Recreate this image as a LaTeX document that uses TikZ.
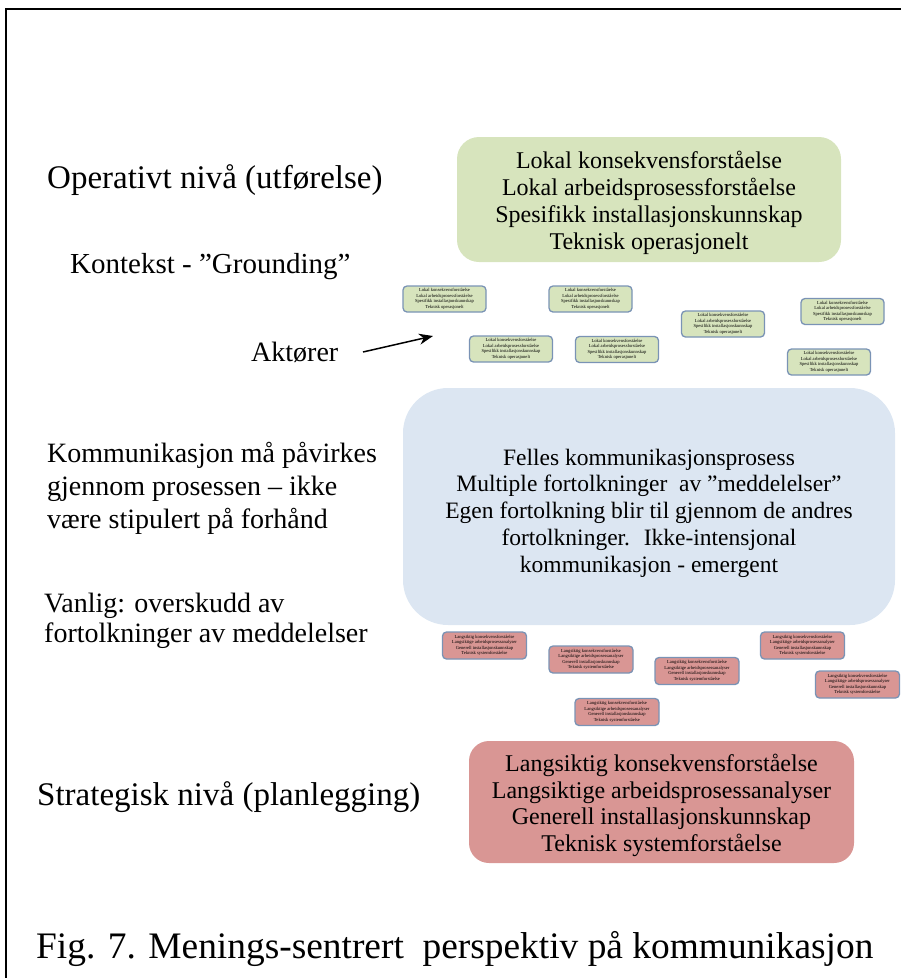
\documentclass[tikz,border=0pt]{standalone}
\usepackage{fontspec}
\setmainfont{Liberation Serif}
\usetikzlibrary{arrows.meta}
\definecolor{grn}{HTML}{D7E4BD}
\definecolor{blu}{HTML}{DCE6F2}
\definecolor{rd}{HTML}{D99694}
\definecolor{edg}{HTML}{7A93B5}
\newcommand{\grntext}{Lokal konsekvensforståelse\\Lokal arbeidsprosessforståelse\\Spesifikk installasjonskunnskap\\Teknisk operasjonelt}
\newcommand{\rdtext}{Langsiktig konsekvensforståelse\\Langsiktige arbeidsprosessanalyser\\Generell installasjonskunnskap\\Teknisk systemforståelse}
\begin{document}
\begin{tikzpicture}[x=1pt,y=-1pt,
  bigbox/.style={inner sep=0pt},
  boxtext/.style={inner sep=0pt, align=center, font=\fontsize{24}{27}\selectfont},
  smallg/.style={fill=grn, draw=edg, line width=1.3, rounded corners=4, inner sep=0pt,
    minimum width=83, minimum height=26, align=center, font=\fontsize{4.6}{5.5}\selectfont},
  smallr/.style={smallg, fill=rd, minimum width=84, minimum height=27},
  lab/.style={anchor=base west, inner sep=0pt, font=\fontsize{28}{33}\selectfont, align=left},
  biglab/.style={lab, font=\fontsize{33}{38}\selectfont},
  frame/.style={line width=2.5, line cap=rect}
]
\useasboundingbox (0,0) rectangle (901,978);
\draw[frame] (6,990) -- (6,9) -- (910,9);

% big boxes
\node[bigbox, fill=grn, rounded corners=22, minimum width=384, minimum height=125] (green) at (649,199.5) {};
\node[boxtext] (greentxt) at ([yshift=-3.5pt]green.center) {\grntext};
\node[bigbox, fill=blu, rounded corners=45, minimum width=492, minimum height=237] (blue) at (649,506.5) {};
\node[boxtext, font=\fontsize{23.5}{26.8}\selectfont] (bluetxt) at ([yshift=-6.5pt]blue.center)
  {Felles kommunikasjonsprosess\\Multiple fortolkninger~ av ''meddelelser''\\Egen fortolkning blir til gjennom de andres\\fortolkninger.~ Ikke-intensjonal\\kommunikasjon - emergent};
\node[bigbox, fill=rd, rounded corners=20, minimum width=385, minimum height=122] (red) at (661.5,802) {};
\node[boxtext, font=\fontsize{24}{26.5}\selectfont] (redtxt) at ([yshift=-3.5pt]red.center) {\rdtext};

% small green boxes (actors)
\node[smallg] (g1) at (444.5,299) {\grntext};
\node[smallg] (g2) at (590.5,299) {\grntext};
\node[smallg] (g3) at (511,349) {\grntext};
\node[smallg] (g4) at (617,349.5) {\grntext};
\node[smallg] (g5) at (723,324) {\grntext};
\node[smallg] (g6) at (842.5,311.5) {\grntext};
\node[smallg] (g7) at (829,362) {\grntext};

% small red boxes
\node[smallr] (r1) at (484.5,645.5) {\rdtext};
\node[smallr] (r2) at (591,659.5) {\rdtext};
\node[smallr] (r3) at (697,671) {\rdtext};
\node[smallr] (r4) at (617,712) {\rdtext};
\node[smallr] (r5) at (802.5,645.5) {\rdtext};
\node[smallr] (r6) at (857.5,684.5) {\rdtext};

% left labels
\node[biglab] (oper) at (47,188) {Operativt nivå (utførelse)};
\node[lab, font=\fontsize{29}{33}\selectfont] (kont) at (70,273) {Kontekst - ''Grounding''};
\node[lab] (akt) at (251,361) {Aktører};
\node[lab] (komm) at (47,528) {Kommunikasjon må påvirkes\\gjennom prosessen – ikke\\være stipulert på forhånd};
\node[lab, font=\fontsize{28}{30}\selectfont] (vanl) at (44,642) {Vanlig: overskudd av\\fortolkninger av meddelelser};
\node[biglab] (strat) at (37,805) {Strategisk nivå (planlegging)};
\node[anchor=base west, inner sep=0pt, font=\fontsize{37.4}{40}\selectfont] (cap) at (36,958) {Fig. 7. Menings-sentrert~ perspektiv på kommunikasjon};

% arrow
\coordinate (arrS) at (363,352);
\coordinate (arrE) at (433,336);
\draw[line width=1.5, -{Stealth[length=14, width=11]}] (arrS) -- (arrE);
\end{tikzpicture}
\end{document}
